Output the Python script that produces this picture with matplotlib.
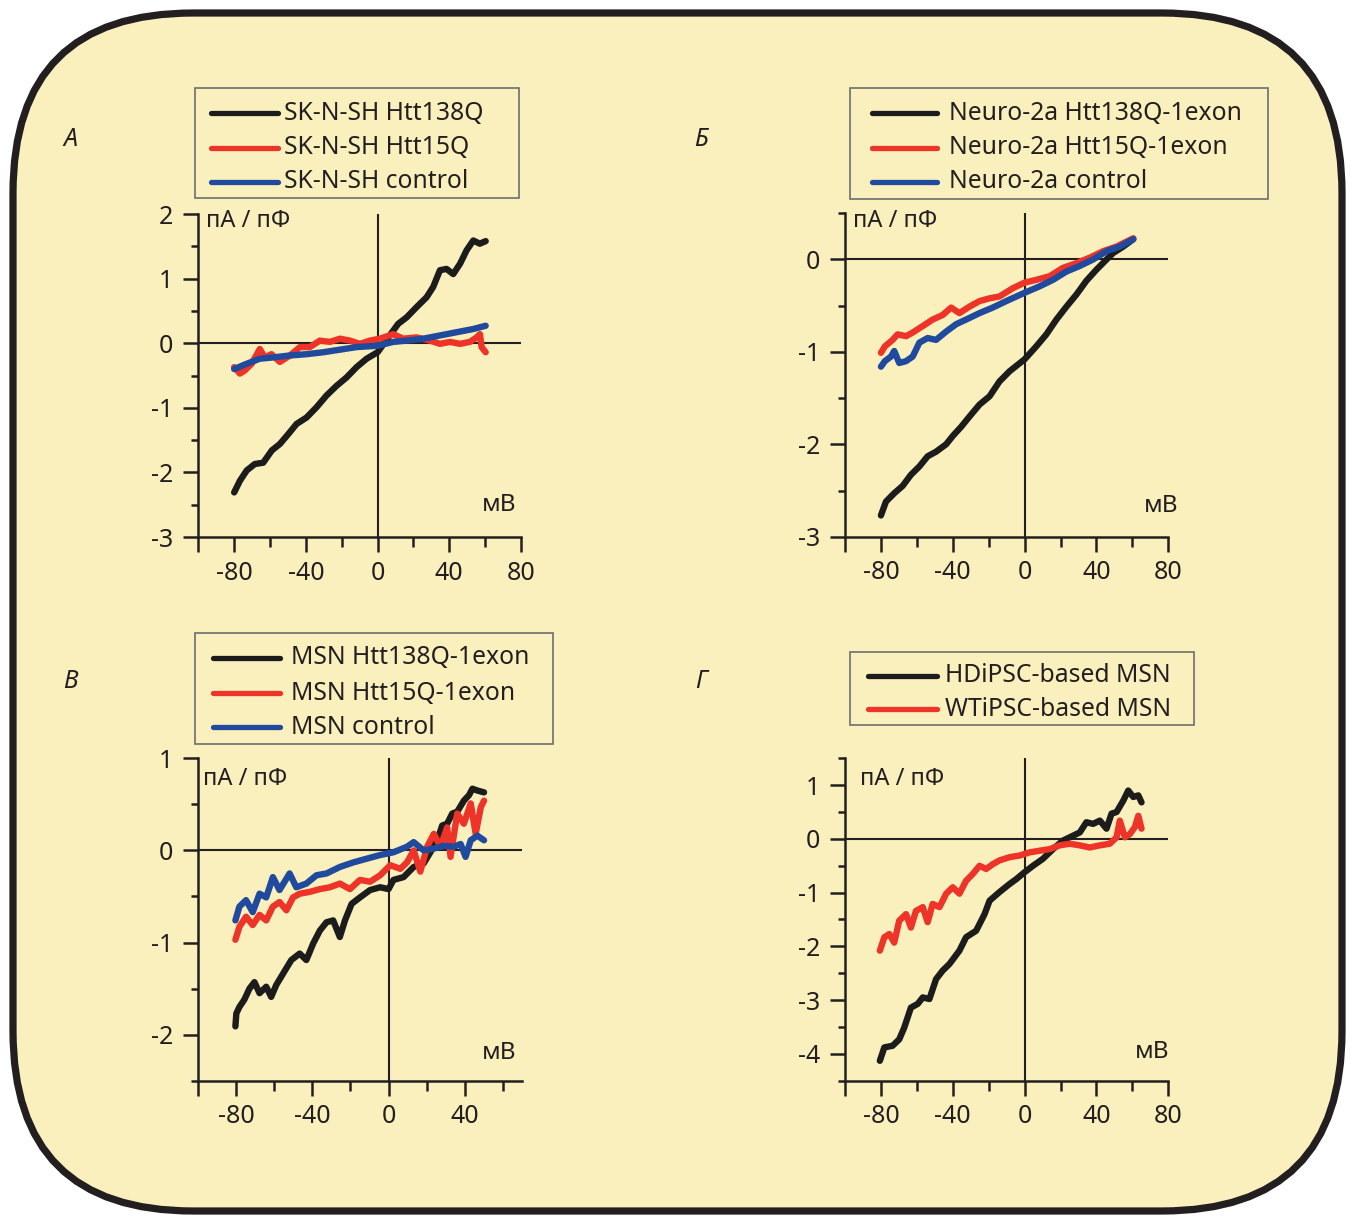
import matplotlib.pyplot as plt
from matplotlib.patches import FancyBboxPatch, Rectangle
from matplotlib.ticker import MultipleLocator, FixedLocator

plt.rcParams['font.family'] = ['Noto Sans', 'DejaVu Sans']
plt.rcParams['axes.unicode_minus'] = False

W, H = 1353, 1220
BG = '#faf0bd'
INK = '#231f20'
C_BLACK = '#1c1c1c'
C_RED = '#ee3428'
C_BLUE = '#1f4a9e'

# ---- panel A: SK-N-SH ----
A_LABELS = ['SK-N-SH Htt138Q', 'SK-N-SH Htt15Q', 'SK-N-SH control']
A_V_138 = [-80, -76.8, -73, -68.5, -63.8, -59, -54.5, -49.9, -45.2, -39.6, -34, -28.5, -22.9, -17.3,
           -11.7, -6.1, 0, 6, 11.5, 16.2, 21.8, 27.3, 31, 34.8, 38.5, 42.2, 46, 49.7, 53.4, 57, 60.3]
A_I_138 = [-2.31, -2.13, -1.97, -1.87, -1.85, -1.66, -1.56, -1.41, -1.25, -1.15, -0.99, -0.81, -0.66, -0.53,
           -0.37, -0.24, -0.14, 0.09, 0.30, 0.40, 0.56, 0.71, 0.87, 1.13, 1.15, 1.07, 1.23, 1.44, 1.59, 1.54, 1.58]
A_V_15 = [-80, -76.8, -74, -70.3, -65.7, -62.9, -59.2, -54.5, -48.9, -43.3, -37.8, -32.2, -26.6, -21, -15.4,
          -9.9, -4.3, 1.3, 8.7, 14.3, 21.8, 29.2, 34.8, 40.4, 46, 51.5, 55.3, 57.1, 58, 60.3]
A_I_15 = [-0.37, -0.47, -0.42, -0.32, -0.09, -0.22, -0.17, -0.29, -0.19, -0.06, -0.06, 0.04, 0.02, 0.07, 0.04,
          -0.01, 0.04, 0.07, 0.14, 0.07, 0.09, 0.04, -0.01, 0.02, -0.01, 0.02, 0.09, 0.14, -0.06, -0.14]
A_V_CTL = [-80, -73.1, -65.7, -58.2, -48.9, -39.6, -30.3, -21, -11.7, 0, 8.7, 16.2, 25.5, 34.8, 44.1, 53.4, 60.3]
A_I_CTL = [-0.40, -0.32, -0.24, -0.22, -0.19, -0.17, -0.14, -0.10, -0.06, -0.04, 0.02, 0.04, 0.07, 0.12,
           0.17, 0.22, 0.27]

# ---- panel Б: Neuro-2a ----
B_LABELS = ['Neuro-2a Htt138Q-1exon', 'Neuro-2a Htt15Q-1exon', 'Neuro-2a control']
B_V_138 = [-80, -77.2, -72.6, -67.9, -63.3, -58.6, -54, -49.3, -43.7, -40, -35.3, -30.7, -25.1, -19.5,
           -14, -8.4, 0, 6.5, 12.1, 17.7, 23.3, 28.8, 34.4, 40, 45.6, 49.3, 54.9, 60.5]
B_I_138 = [-2.77, -2.62, -2.53, -2.45, -2.33, -2.24, -2.13, -2.08, -2.00, -1.91, -1.81, -1.70, -1.57, -1.48,
           -1.32, -1.21, -1.08, -0.94, -0.81, -0.65, -0.51, -0.38, -0.23, -0.11, 0.0, 0.07, 0.14, 0.22]
B_V_15 = [-80, -77.8, -73.5, -70.7, -66, -62.3, -56.7, -51.2, -45.6, -40.9, -36.3, -30.7, -25.1, -19.5,
          -14, -6.5, 0, 6.5, 14, 21.4, 28.8, 36.3, 43.7, 51.2, 60.5]
B_I_15 = [-1.01, -0.94, -0.87, -0.81, -0.83, -0.79, -0.72, -0.65, -0.60, -0.52, -0.58, -0.51, -0.45, -0.42,
          -0.40, -0.31, -0.25, -0.22, -0.18, -0.09, -0.04, 0.02, 0.09, 0.14, 0.23]
B_V_CTL = [-80, -77.8, -74.4, -72.6, -69.8, -66, -62.3, -58.6, -54, -49.3, -43.7, -38.1, -32.6, -25.1,
           -17.7, -10.2, 0, 8.4, 15.8, 23.3, 30.7, 38.1, 45.6, 53, 60.5]
B_I_CTL = [-1.16, -1.10, -1.05, -0.99, -1.12, -1.10, -1.05, -0.90, -0.85, -0.87, -0.78, -0.70, -0.65, -0.58,
           -0.52, -0.45, -0.36, -0.29, -0.22, -0.13, -0.07, 0.0, 0.09, 0.14, 0.22]

# ---- panel В: MSN ----
C_LABELS = ['MSN Htt138Q-1exon', 'MSN Htt15Q-1exon', 'MSN control']
C_V_138 = [-80.5, -80, -78.4, -75.8, -73.1, -70.5, -67.8, -64.3, -61.7, -59, -55.5, -51.1, -46.7, -43.2,
           -39.6, -36.1, -32.6, -29.1, -25.6, -22.9, -19.4, -15, -9.7, -4.4, 0, 2.6, 7.9, 13.2, 18.5, 22,
           25.6, 28.2, 30.8, 33.5, 36.1, 39.6, 42.3, 44.1, 46.7, 50.2]
C_I_138 = [-1.91, -1.77, -1.70, -1.62, -1.50, -1.43, -1.55, -1.48, -1.59, -1.46, -1.34, -1.19, -1.12, -1.19,
           -1.01, -0.87, -0.78, -0.76, -0.94, -0.76, -0.58, -0.51, -0.43, -0.40, -0.42, -0.32, -0.29, -0.18,
           -0.14, -0.02, 0.11, 0.27, 0.29, 0.40, 0.42, 0.54, 0.60, 0.67, 0.65, 0.63]
C_V_15 = [-80.5, -78.4, -74.9, -71.4, -67.8, -64.3, -60.8, -57.3, -53.7, -50.2, -46.7, -41.4, -36.1, -30.8,
          -25.6, -20.3, -15, -9.7, -4.4, 0.9, 6.2, 9.7, 13.2, 16.7, 20.3, 23.8, 27.3, 30.8, 32.6, 36.1, 39.6,
          43.2, 45.8, 48.5, 50.2]
C_I_15 = [-0.97, -0.83, -0.72, -0.81, -0.70, -0.76, -0.61, -0.56, -0.65, -0.51, -0.47, -0.45, -0.42, -0.40,
          -0.36, -0.42, -0.32, -0.34, -0.27, -0.16, -0.20, -0.13, 0.0, -0.23, 0.04, 0.18, 0.04, 0.25, -0.07,
          0.40, 0.29, 0.51, 0.18, 0.47, 0.54]
C_V_CTL = [-80.5, -78.4, -74.9, -71.4, -67.8, -64.3, -60.8, -57.3, -52, -48.5, -43.2, -37.9, -32.6, -25.6,
           -18.5, -11.5, -4.4, 2.6, 9.7, 13.2, 18.5, 23.8, 29.1, 34.4, 37.9, 40.5, 43.2, 46.7, 50.2]
C_I_CTL = [-0.76, -0.61, -0.54, -0.67, -0.47, -0.51, -0.29, -0.43, -0.25, -0.40, -0.36, -0.27, -0.25, -0.18,
           -0.13, -0.09, -0.05, -0.02, 0.04, 0.09, 0.0, 0.02, 0.05, 0.04, 0.07, -0.07, 0.11, 0.16, 0.11]

# ---- panel Г: iPSC-based MSN ----
D_LABELS = ['HDiPSC-based MSN', 'WTiPSC-based MSN']
D_V_HD = [-80.6, -78.1, -73.5, -69.8, -67, -63.3, -59.5, -56.7, -53, -49.3, -45.6, -41.9, -36.3, -32.6,
          -27, -22.3, -19.5, -14, -8.4, -4.7, 0, 4.7, 10.2, 15.8, 21.4, 27, 30.7, 34.4, 38.1, 41.9, 45.6,
          48.4, 51.2, 54.9, 57.7, 60.5, 63.3, 65.1]
D_I_HD = [-4.13, -3.88, -3.85, -3.73, -3.51, -3.14, -3.07, -2.95, -2.98, -2.61, -2.45, -2.33, -2.08, -1.83,
          -1.71, -1.40, -1.15, -0.99, -0.84, -0.75, -0.62, -0.50, -0.37, -0.19, -0.03, 0.06, 0.12, 0.31,
          0.28, 0.34, 0.19, 0.47, 0.50, 0.71, 0.90, 0.78, 0.81, 0.68]
D_V_WT = [-80.6, -78.1, -75.3, -72.6, -69.8, -66, -63.3, -60.5, -56.7, -54, -51.2, -47.4, -43.7, -40,
          -36.3, -32.6, -28.8, -25.1, -21.4, -17.7, -14, -8.4, -2.8, 2.8, 8.4, 14, 19.5, 25.1, 30.7, 36.3,
          41.9, 47.4, 51.2, 53, 55.8, 58.6, 61.4, 63.3, 65.1]
D_I_WT = [-2.08, -1.83, -1.77, -1.93, -1.52, -1.40, -1.65, -1.34, -1.27, -1.55, -1.21, -1.27, -1.02, -0.90,
          -1.02, -0.78, -0.65, -0.50, -0.56, -0.47, -0.40, -0.34, -0.31, -0.25, -0.22, -0.19, -0.12, -0.09,
          -0.12, -0.16, -0.12, -0.09, 0.03, 0.34, 0.03, 0.09, 0.22, 0.43, 0.19]

fig = plt.figure(figsize=(W / 100, H / 100), dpi=100)
fig.patch.set_facecolor('white')

# pixel-coordinate backdrop
bg = fig.add_axes([0, 0, 1, 1], zorder=0)
bg.set_xlim(0, W)
bg.set_ylim(H, 0)
bg.axis('off')
bg.add_patch(FancyBboxPatch((13, 13), 1329, 1198, boxstyle='round,pad=0,rounding_size=180',
                            facecolor=BG, edgecolor=INK, linewidth=5.2))

TICK_FS = 18
LEG_FS = 17.8


def panel(box, xlim, ylim, xmaj, xlabels, xmin, series, labels, letter, letter_xy, unit_xy, mv_xy,
          leg_box, leg_handle, leg_text_x, leg_rows):
    l, t, r, b = box
    ax = fig.add_axes([l / W, 1 - b / H, (r - l) / W, (b - t) / H], zorder=2)
    ax.patch.set_alpha(0)
    ax.set_xlim(*xlim)
    ax.set_ylim(*ylim)
    for s in ['top', 'right']:
        ax.spines[s].set_visible(False)
    for s in ['left', 'bottom']:
        ax.spines[s].set_linewidth(1.8)
        ax.spines[s].set_color(INK)
    ax.axhline(0, color=INK, lw=1.5, zorder=1)
    ax.axvline(0, color=INK, lw=1.5, zorder=1)
    ax.xaxis.set_major_locator(FixedLocator(xmaj))
    ax.set_xticklabels(xlabels)
    ax.xaxis.set_minor_locator(FixedLocator(xmin))
    ax.yaxis.set_major_locator(MultipleLocator(1))
    ax.yaxis.set_minor_locator(MultipleLocator(0.5))
    ax.tick_params(axis='x', which='major', length=11, width=1.8, color=INK, labelsize=TICK_FS, pad=6,
                   labelcolor=INK)
    ax.tick_params(axis='x', which='minor', length=7, width=1.8, color=INK)
    ax.tick_params(axis='y', which='major', length=11, width=1.8, color=INK, labelsize=TICK_FS, pad=7,
                   labelcolor=INK)
    ax.tick_params(axis='y', which='minor', length=5, width=1.8, color=INK)
    for v, i, c in series:
        ax.plot(v, i, color=c, lw=4.6, solid_capstyle='round', solid_joinstyle='round', zorder=3)

    bg.text(*letter_xy, letter, fontsize=18, style='italic', color=INK, ha='center', va='center')
    bg.text(*unit_xy, 'пА / пФ', fontsize=17, color=INK, ha='left', va='center')
    bg.text(*mv_xy, 'мВ', fontsize=17.5, color=INK, ha='center', va='center')

    bl, bt, br, bb = leg_box
    bg.add_patch(Rectangle((bl, bt), br - bl, bb - bt, facecolor=BG, edgecolor='#6d6e70', lw=1.2))
    for (v, i, c), lab, y in zip(series, labels, leg_rows):
        bg.plot(leg_handle, [y, y], color=c, lw=3.8, solid_capstyle='round')
        bg.text(leg_text_x, y, lab, fontsize=LEG_FS, color=INK, ha='left', va='center')
    return ax


panel((198.3, 214, 521, 537), (-100, 80), (-3, 2),
      [-100, -80, -40, 0, 40, 80], ['', '-80', '-40', '0', '40', '80'], [-60, -20, 20, 60],
      [(A_V_138, A_I_138, C_BLACK), (A_V_15, A_I_15, C_RED), (A_V_CTL, A_I_CTL, C_BLUE)], A_LABELS,
      'А', (71, 140), (206, 221), (499, 505),
      (195, 88, 519, 198), (211, 278), 284, [113, 148, 182])

panel((845, 213.3, 1168.3, 536.7), (-100, 80), (-3, 0.5),
      [-100, -80, -40, 0, 40, 80], ['', '-80', '-40', '0', '40', '80'], [-60, -20, 20, 60],
      [(B_V_138, B_I_138, C_BLACK), (B_V_15, B_I_15, C_RED), (B_V_CTL, B_I_CTL, C_BLUE)], B_LABELS,
      'Б', (701, 140), (853, 221), (1161, 506),
      (850, 88, 1268, 199), (872, 937), 949, [113, 148, 182])

panel((198.3, 758.3, 521.7, 1080.7), (-100, 70), (-2.5, 1),
      [-100, -80, -40, 0, 40], ['', '-80', '-40', '0', '40'], [-60, -20, 20, 60],
      [(C_V_138, C_I_138, C_BLACK), (C_V_15, C_I_15, C_RED), (C_V_CTL, C_I_CTL, C_BLUE)], C_LABELS,
      'В', (70, 681), (203, 779), (499, 1053),
      (195, 633, 553, 744), (213, 280), 291, [658, 693, 727])

panel((845, 758.3, 1168.3, 1080.7), (-100, 80), (-4.5, 1.5),
      [-100, -80, -40, 0, 40, 80], ['', '-80', '-40', '0', '40', '80'], [-60, -20, 20, 60],
      [(D_V_HD, D_I_HD, C_BLACK), (D_V_WT, D_I_WT, C_RED)], D_LABELS,
      'Г', (701, 681), (860, 779), (1152, 1052),
      (850, 652, 1194, 725), (868, 937), 945, [676, 709])

fig.savefig('out.png', dpi=100, facecolor='white')
